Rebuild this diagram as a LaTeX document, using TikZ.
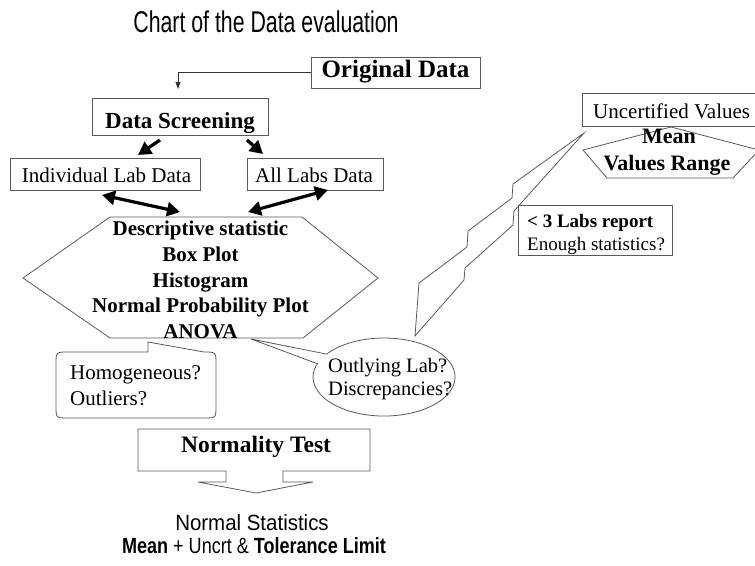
\documentclass[tikz,border=0pt]{standalone}
\usepackage{graphicx}
\usepackage{fontspec}
\setmainfont{Liberation Serif}
\setsansfont{Liberation Sans}
\usetikzlibrary{arrows.meta,fit}

\begin{document}
\begin{tikzpicture}[x=1pt,y=-1pt,
  line/.style={draw=black!65,line width=0.8pt},
  box/.style={line, rectangle, inner sep=0pt},
  tr/.style={anchor=base, inner sep=0pt, font=\fontsize{#1}{#1}\selectfont},
  tb/.style={anchor=base, inner sep=0pt, font=\fontsize{#1}{#1}\selectfont\bfseries},
  fat/.style={line width=3.2pt, -{Triangle[length=13pt,width=14pt]}},
  fatboth/.style={line width=3.2pt, {Triangle[length=13pt,width=14pt]}-{Triangle[length=13pt,width=14pt]}},
  thinarrow/.style={draw=black!80, line width=0.8pt, -{Triangle[length=7pt,width=5pt]}},
]
\useasboundingbox (0,0) rectangle (755,565);
\clip (0,0) rectangle (755,565);

% title
\node[anchor=base, inner sep=0pt] (title) at (266,32)
  {\sffamily\fontsize{30}{30}\selectfont\scalebox{0.71}[1]{Chart of the Data evaluation}};

% input boxes
\node[box, fit={(311,57) (480,88)}] (orig) {};
\node[tb=25] (origtxt) at (395.5,77) {Original Data};
\node[box, fit={(92,98) (268,135)}] (ds) {};
\node[tb=23] (dstxt) at (180,128) {Data Screening};
\node[box, fit={(10,158) (200,190)}] (ind) {};
\node[tr=21] (indtxt) at (106.5,182) {Individual Lab Data};
\node[box, fit={(247,158) (383,190)}] (all) {};
\node[tr=21] (alltxt) at (314,182) {All Labs Data};

% arrow ends
\coordinate (dsin) at (178,89);
\coordinate (dsL) at (160,140);
\coordinate (dsR) at (247,140);
\coordinate (indin) at (138,155);
\coordinate (allin) at (263,154);
\coordinate (indout) at (102,195);
\coordinate (allout) at (328,190);
\coordinate (hexL) at (180,212);
\coordinate (hexR) at (248,212);

\draw[thinarrow] (orig.west) -| (dsin);
\draw[fat] (dsL) -- (indin);
\draw[fat] (dsR) -- (allin);
\draw[fatboth] (indout) -- (hexL);
\draw[fatboth] (allout) -- (hexR);

% statistics hexagon
\draw[line] (23,278) -- (110,217) -- (302,217) -- (378,278) -- (303,338) -- (110,338) -- cycle;
\node[tb=21] (s1) at (200.5,235) {Descriptive statistic};
\node[tb=21] (s2) at (200.5,261) {Box Plot};
\node[tb=21] (s3) at (200.5,287) {Histogram};
\node[tb=21] (s4) at (200.5,312) {Normal Probability Plot};
\node[tb=21] (s5) at (200.5,338) {ANOVA};

% rounded callout
\draw[line] (148,342) -- (148,352) -- (68,352) .. controls (56,352) .. (56,364)
  -- (56,406) .. controls (56,418) .. (68,418) -- (204,418)
  .. controls (216,418) .. (216,406) -- (216,364) .. controls (216,352) .. (204,352) -- cycle;
\node[tr=21, anchor=base west] (c1) at (70,379) {Homogeneous?};
\node[tr=21, anchor=base west] (c2) at (70,405) {Outliers?};

% oval callout
\draw[line] (317.3,363.7) -- (251,339) -- (326.6,354.1)
  arc[start angle=216, end angle=560, x radius=71, y radius=39] -- cycle;
\node[tr=20.5, anchor=base west] (o1) at (328,372) {Outlying Lab?};
\node[tr=20.5, anchor=base west] (o2) at (328,395) {Discrepancies?};

% zigzag link
\draw[line] (584,133) -- (513,184) -- (512,198) -- (468,231) -- (467,247) -- (419,283)
  -- (415,336) -- (464,280) -- (465,268) -- (513,225) -- (514,211) -- cycle;

% uncertified values
\node[box, fit={(582,93) (765,126)}] (unc) {};
\node[tr=21, anchor=base west] (unctxt) at (593,118) {Uncertified Values};
\draw[line] (583,150) -- (671,127) -- (759,150) -- (733,178) -- (607,178) -- cycle;
\node[tb=22] (mean) at (669,143) {Mean};
\node[tb=22] (range) at (667,170) {Values Range};

\node[box, fit={(518,205) (672,255)}] (few) {};
\node[tb=19, anchor=base west] (fewtxt) at (527,227) {< 3 Labs report};
\node[tr=19, anchor=base west] (enough) at (527,250) {Enough statistics?};

% normality test with block arrow
\draw[line] (226,471) -- (138,471) -- (138,429) -- (370,429) -- (370,471) -- (283,471)
  -- (283,482) -- (313,482) -- (256,493) -- (198,482) -- (226,482) -- cycle;
\node[tb=23.5] (norm) at (256,452) {Normality Test};

% result
\node[anchor=base, inner sep=0pt] (res1) at (252,530)
  {\sffamily\fontsize{22}{22}\selectfont\scalebox{0.93}[1]{Normal Statistics}};
\node[anchor=base, inner sep=0pt] (res2) at (254,553)
  {\sffamily\fontsize{22}{22}\selectfont\scalebox{0.82}[1]{\textbf{Mean} + Uncrt \& \textbf{Tolerance Limit}}};
\end{tikzpicture}
\end{document}
